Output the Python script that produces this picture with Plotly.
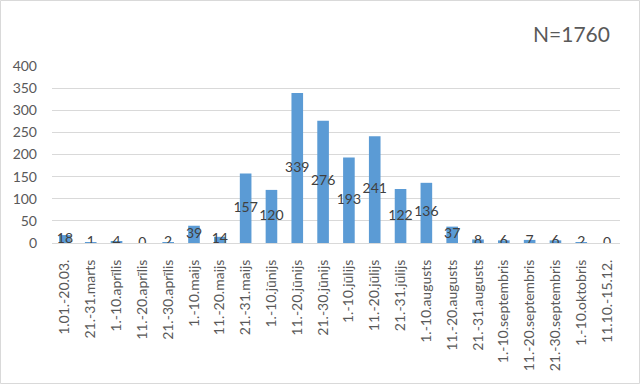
import plotly.graph_objects as go

categories = [
    "1.01.-20.03.", "21.-31.marts", "1.-10.aprīlis", "11.-20.aprīlis", "21.-30.aprīlis",
    "1.-10.maijs", "11.-20.maijs", "21.-31.maijs", "1.-10.jūnijs", "11.-20.jūnijs",
    "21.-30.jūnijs", "1.-10.jūlijs", "11.-20.jūlijs", "21.-31.jūlijs", "1.-10.augusts",
    "11.-20.augusts", "21.-31.augusts", "1.-10.septembris", "11.-20.septembris",
    "21.-30.septembris", "1.-10.oktobris", "11.10.-15.12.",
]
values = [18, 1, 4, 0, 2, 39, 14, 157, 120, 339, 276, 193, 241, 122, 136, 37, 8, 6, 7, 6, 2, 0]
y_ticks = [0, 50, 100, 150, 200, 250, 300, 350, 400]
total_label = "N=1760"

W, H = 640, 384
ML, MR, MT, MB = 52, 20, 66, 141
PW, PH = W - ML - MR, H - MT - MB

FONT = "Lato"
fig = go.Figure()
fig.add_trace(go.Bar(
    x=categories, y=values, marker=dict(color="#5b9bd5", line=dict(width=0)),
    hoverinfo="skip",
))
fig.add_trace(go.Scatter(
    x=categories, y=[v / 2 for v in values], mode="text",
    text=[str(v) for v in values],
    textfont=dict(family=FONT, size=14, color="#404040"),
    textposition="middle center", hoverinfo="skip",
))

fig.update_layout(
    width=W, height=H,
    margin=dict(l=ML, r=MR, t=MT, b=MB, pad=0),
    paper_bgcolor="white", plot_bgcolor="white",
    showlegend=False, bargap=0.55,
    font=dict(family=FONT, size=14, color="#595959"),
    xaxis=dict(
        type="category", showgrid=False, showline=True, linecolor="#d9d9d9", linewidth=1,
        tickangle=-90, ticks="", ticklabelstandoff=10,
        tickfont=dict(family=FONT, size=14, color="#595959"),
        range=[-0.5, len(categories) - 0.5], fixedrange=True,
    ),
    yaxis=dict(
        range=[0, 400], tickvals=y_ticks, showgrid=True, gridcolor="#d9d9d9", gridwidth=1,
        zeroline=False, showline=False, ticks="", ticklabelstandoff=14,
        tickfont=dict(family=FONT, size=14, color="#595959"), fixedrange=True,
    ),
    annotations=[dict(
        text=total_label, xref="paper", yref="paper",
        x=(612 - ML) / PW, y=(H - MB - 34) / PH - (H - MB - MT) / PH + 1 + (MT - 34) / PH - (MT - 34) / PH + 0,
        xanchor="right", yanchor="middle", showarrow=False,
        font=dict(family=FONT, size=21, color="#595959"),
    )],
    shapes=[dict(
        type="rect", xref="paper", yref="paper",
        x0=(-ML + 0.5) / PW, x1=1 + (MR - 0.5) / PW,
        y0=(-MB + 0.5) / PH, y1=1 + (MT - 0.5) / PH,
        line=dict(color="#d9d9d9", width=1), fillcolor="rgba(0,0,0,0)", layer="below",
    )],
)
# place the N label at pixel y=34 from top
fig.layout.annotations[0].y = 1 + (MT - 34) / PH

fig.write_html("out.html")
